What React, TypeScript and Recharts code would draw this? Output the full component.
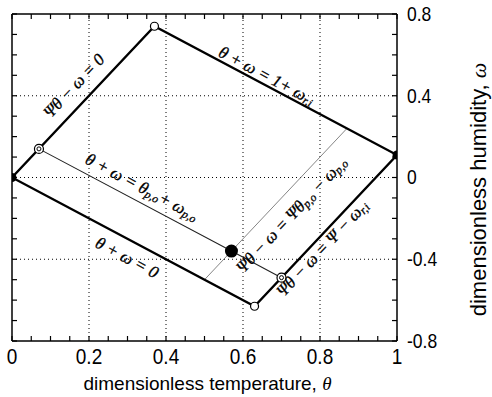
import { ComposedChart, Line, Scatter, XAxis, YAxis, ReferenceLine, ReferenceDot } from 'recharts'

const W = 492
const H = 397
const MARGIN = { top: 13, left: 11, right: 0, bottom: 0 }
const FRAME_AXIS = 1
const X_AXIS_H = 56
const Y_AXIS_W = 95
const PLOT_LEFT = MARGIN.left + FRAME_AXIS
const PLOT_TOP = MARGIN.top + FRAME_AXIS
const PLOT_W = W - PLOT_LEFT - Y_AXIS_W
const PLOT_H = H - PLOT_TOP - X_AXIS_H

const SANS = 'Liberation Sans, Arial, sans-serif'
const SERIF = 'Liberation Serif, Times New Roman, serif'

// (theta, omega) points
const regionOutline = [
  { t: 0, w: 0 },
  { t: 0.37, w: 0.74 },
  { t: 1, w: 0.11 },
  { t: 0.63, w: -0.63 },
  { t: 0, w: 0 },
]
const processLine = [
  { t: 0.07, w: 0.14 },
  { t: 0.57, w: -0.36 },
  { t: 0.7, w: -0.49 },
]
const operatingLine = [
  { t: 0.5, w: -0.5 },
  { t: 0.87, w: 0.24 },
]

const inletPoints = [{ t: 0, w: 0 }, { t: 1, w: 0.11 }]
const operatingPoint = [{ t: 0.57, w: -0.36 }]
const cornerPoints = [{ t: 0.37, w: 0.74 }, { t: 0.63, w: -0.63 }]
const exitPoints = [{ t: 0.07, w: 0.14 }, { t: 0.7, w: -0.49 }]

const xTicks = [0, 0.05, 0.1, 0.15, 0.2, 0.25, 0.3, 0.35, 0.4, 0.45, 0.5, 0.55, 0.6, 0.65, 0.7, 0.75, 0.8, 0.85, 0.9, 0.95, 1]
const xLabels = [0, 0.2, 0.4, 0.6, 0.8, 1]
const yTicks = [-0.8, -0.7, -0.6, -0.5, -0.4, -0.3, -0.2, -0.1, 0, 0.1, 0.2, 0.3, 0.4, 0.5, 0.6, 0.7, 0.8]
const yLabels = [-0.8, -0.4, 0, 0.4, 0.8]
const xGrid = [0.2, 0.4, 0.6, 0.8]
const yGrid = [-0.4, 0, 0.4]

// line labels: anchor (t, w), slope of the line they sit on, text parts ([text, isSubscript])
const annotations = [
  { t: 0.16, w: 0.45, slope: 2, parts: [['Ψθ − ω = 0', 0]] },
  { t: 0.662, w: 0.5, slope: -1, parts: [['θ + ω = 1+ ω', 0], ['r,i', 1]] },
  { t: 0.338, w: -0.045, slope: -1, parts: [['θ + ω = θ', 0], ['p,o', 1], ['+ ω', 0], ['p,o', 1]] },
  { t: 0.299, w: -0.39, slope: -1, parts: [['θ + ω = 0', 0]] },
  { t: 0.725, w: -0.18, slope: 2, parts: [['Ψθ − ω = Ψθ', 0], ['p,o', 1], [' − ω', 0], ['p,o', 1]] },
  { t: 0.805, w: -0.345, slope: 2, parts: [['Ψθ − ω = Ψ − ω', 0], ['r,i', 1]] },
]

const angleFor = (slope: number) => (-Math.atan((slope * PLOT_H) / 1.6 / PLOT_W) * 180) / Math.PI

const renderAnnotation = (a: any) => (p: any) => (
  <text
    transform={`translate(${p.cx},${p.cy}) rotate(${angleFor(a.slope)})`}
    textAnchor="middle"
    dominantBaseline="central"
    fontFamily={SERIF}
    fontStyle="italic"
    fill="#000"
    stroke="#000"
    strokeWidth={0.3}
  >
    {a.parts.map(([s, sub]: any, i: number) => {
      const prevSub = i > 0 ? a.parts[i - 1][1] : 0
      const dy = sub && !prevSub ? 4 : !sub && prevSub ? -4 : 0
      return (
        <tspan key={i} fontSize={sub ? 11.5 : 17} dy={dy}>
          {s}
        </tspan>
      )
    })}
  </text>
)

const BottomTick = ({ x, y, payload }: any) =>
  xLabels.includes(payload.value) ? (
    <text
      transform={`translate(${x},${y + 15}) scale(1,1.2)`}
      textAnchor="middle"
      dominantBaseline="central"
      fontSize={19}
      fontFamily={SANS}
      fill="#000"
    >
      {payload.value}
    </text>
  ) : (
    <g />
  )

const RightTick = ({ x, y, payload }: any) =>
  yLabels.includes(payload.value) ? (
    <text
      transform={`translate(${x + 10},${y}) scale(1,1.12)`}
      textAnchor="start"
      dominantBaseline="central"
      fontSize={17.5}
      fontFamily={SANS}
      fill="#000"
    >
      {payload.value}
    </text>
  ) : (
    <g />
  )

const NoLabel = () => <g />

const xTitle = () => (
  <text
    x={PLOT_LEFT + PLOT_W / 2 + 3}
    y={PLOT_TOP + PLOT_H + 42}
    textAnchor="middle"
    dominantBaseline="central"
    fontSize={19}
    fontFamily={SANS}
    fill="#000"
  >
    dimensionless temperature, <tspan fontFamily={SERIF} fontStyle="italic">θ</tspan>
  </text>
)

const yTitle = () => (
  <text
    transform={`translate(${PLOT_LEFT + PLOT_W + 81},${PLOT_TOP + PLOT_H / 2 + 12}) rotate(-90)`}
    textAnchor="middle"
    dominantBaseline="central"
    fontSize={22}
    fontFamily={SANS}
    fill="#000"
  >
    dimensionless humidity, <tspan fontFamily={SERIF} fontStyle="italic">ω</tspan>
  </text>
)

const dot = (kind: string) => (p: any) => {
  if (kind === 'filled') return <circle cx={p.cx} cy={p.cy} r={4.5} fill="#000" />
  if (kind === 'big') return <circle cx={p.cx} cy={p.cy} r={6.5} fill="#000" />
  if (kind === 'hollow') return <circle cx={p.cx} cy={p.cy} r={4} fill="#fff" stroke="#000" strokeWidth={1.2} />
  return (
    <g>
      <circle cx={p.cx} cy={p.cy} r={4.5} fill="#fff" stroke="#000" strokeWidth={1.2} />
      <circle cx={p.cx} cy={p.cy} r={2} fill="none" stroke="#000" strokeWidth={1} />
    </g>
  )
}

const axisLine = { stroke: '#000', strokeWidth: 1.5 }
const tickLine = { stroke: '#000', strokeWidth: 1.2 }

export default function App() {
  return (
    <div style={{ position: 'absolute', left: 0, top: 0, background: '#fff' }}>
      <ComposedChart width={W} height={H} margin={MARGIN}>
        <XAxis
          dataKey="t"
          type="number"
          domain={[0, 1]}
          allowDataOverflow
          ticks={xTicks}
          interval={0}
          tickSize={-5}
          tickMargin={5}
          tickLine={tickLine}
          tick={BottomTick}
          axisLine={axisLine}
          height={X_AXIS_H}
          label={xTitle}
        />
        <XAxis
          xAxisId="top"
          dataKey="t"
          orientation="top"
          type="number"
          domain={[0, 1]}
          allowDataOverflow
          ticks={xTicks}
          interval={0}
          tickSize={-5}
          tickMargin={0}
          tickLine={tickLine}
          tick={NoLabel}
          axisLine={axisLine}
          height={FRAME_AXIS}
        />
        <YAxis
          dataKey="w"
          orientation="right"
          type="number"
          domain={[-0.8, 0.8]}
          allowDataOverflow
          ticks={yTicks}
          interval={0}
          tickSize={-5}
          tickMargin={5}
          tickLine={tickLine}
          tick={RightTick}
          axisLine={axisLine}
          width={Y_AXIS_W}
          label={yTitle}
        />
        <YAxis
          yAxisId="left"
          dataKey="w"
          orientation="left"
          type="number"
          domain={[-0.8, 0.8]}
          allowDataOverflow
          ticks={yTicks}
          interval={0}
          tickSize={-5}
          tickMargin={0}
          tickLine={tickLine}
          tick={NoLabel}
          axisLine={axisLine}
          width={FRAME_AXIS}
        />
        {xGrid.map((v) => (
          <ReferenceLine key={`gx${v}`} x={v} stroke="#000" strokeWidth={1} strokeDasharray="1 3" />
        ))}
        {yGrid.map((v) => (
          <ReferenceLine key={`gy${v}`} y={v} stroke="#000" strokeWidth={1} strokeDasharray="1 3" />
        ))}
        {/* invisible copy so the top/left frame axes get data and draw their ticks */}
        <Line xAxisId="top" yAxisId="left" data={regionOutline} dataKey="w" stroke="none" dot={false} isAnimationActive={false} />
        <Line data={operatingLine} dataKey="w" stroke="#666" strokeWidth={0.8} dot={false} isAnimationActive={false} />
        <Line data={processLine} dataKey="w" stroke="#222" strokeWidth={1.1} dot={false} isAnimationActive={false} />
        <Line data={regionOutline} dataKey="w" stroke="#000" strokeWidth={2.3} dot={false} isAnimationActive={false} />
        <Scatter data={inletPoints} dataKey="w" shape={dot('filled')} isAnimationActive={false} />
        <Scatter data={operatingPoint} dataKey="w" shape={dot('big')} isAnimationActive={false} />
        <Scatter data={cornerPoints} dataKey="w" shape={dot('hollow')} isAnimationActive={false} />
        <Scatter data={exitPoints} dataKey="w" shape={dot('ring')} isAnimationActive={false} />
        {annotations.map((a, i) => (
          <ReferenceDot key={`a${i}`} x={a.t} y={a.w} r={0} ifOverflow="visible" shape={renderAnnotation(a)} />
        ))}
      </ComposedChart>
    </div>
  )
}
